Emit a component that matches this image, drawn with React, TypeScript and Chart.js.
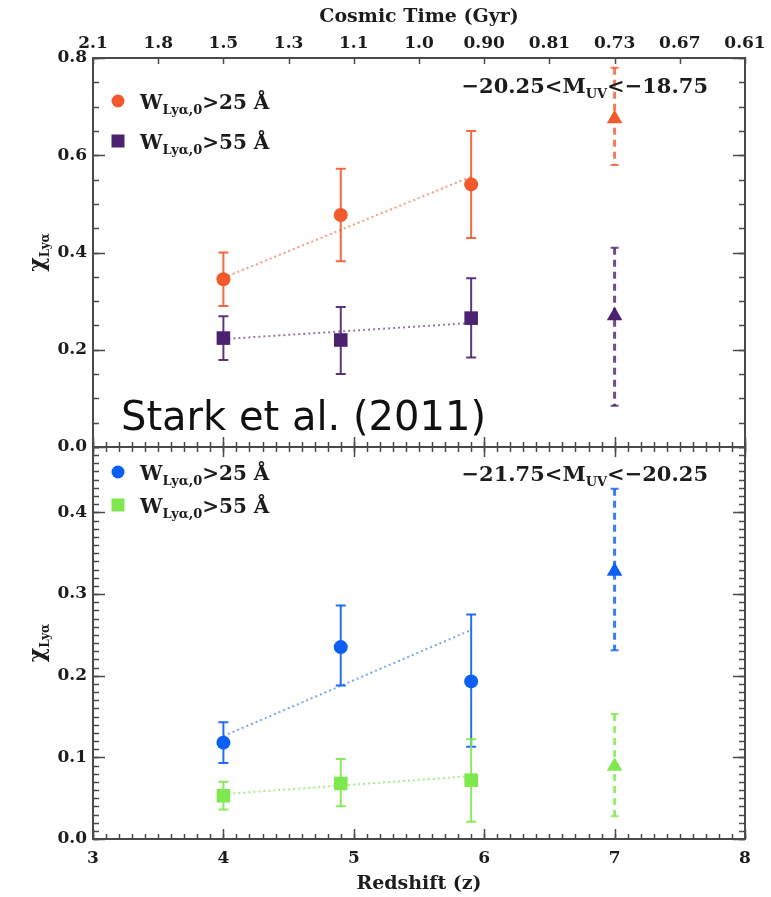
import React, { useEffect, useRef } from 'react';
import { Chart, registerables } from 'chart.js';

Chart.register(...registerables);

const WIDTH = 771;
const HEIGHT = 897;

// Redshift bins of the measurements
const redshifts = [4.0, 4.9, 5.9, 7.0];
// the z~7 point comes from a separate sample and is drawn with a dashed bar
const dashedError = [false, false, false, true];

// -20.25 < M_UV < -18.75 (upper panel)
const faintW25 = [0.345, 0.477, 0.54, 0.675];
const faintW25Hi = [0.055, 0.095, 0.11, 0.105];
const faintW25Lo = [0.055, 0.095, 0.11, 0.095];
const faintW55 = [0.224, 0.22, 0.265, 0.27];
const faintW55Hi = [0.045, 0.068, 0.082, 0.14];
const faintW55Lo = [0.045, 0.07, 0.081, 0.185];

// -21.75 < M_UV < -20.25 (lower panel)
const brightW25 = [0.118, 0.235, 0.193, 0.328];
const brightW25Hi = [0.025, 0.051, 0.082, 0.101];
const brightW25Lo = [0.025, 0.047, 0.08, 0.097];
const brightW55 = [0.053, 0.068, 0.072, 0.089];
const brightW55Hi = [0.017, 0.03, 0.05, 0.064];
const brightW55Lo = [0.017, 0.028, 0.051, 0.061];

// Linear trends over 4 < z < 6
const fitZ = [4.0, 5.9];
const faintW25Fit = [0.348, 0.556];
const faintW55Fit = [0.222, 0.255];
const brightW25Fit = [0.126, 0.256];
const brightW55Fit = [0.055, 0.077];

// Axis ticks
const redshiftTicks = [3, 4, 5, 6, 7, 8];
const cosmicTimeZ = [3, 3.5, 4, 4.5, 5, 5.5, 6, 6.5, 7, 7.5, 8];
const cosmicTimeLabels = ['2.1', '1.8', '1.5', '1.3', '1.1', '1.0', '0.90', '0.81', '0.73', '0.67', '0.61'];
const faintTicks = [0, 0.2, 0.4, 0.6, 0.8];
const brightTicks = [0, 0.1, 0.2, 0.3, 0.4];
const faintMax = 0.8;
const brightMax = 0.48;

const ORANGE = '#f2592d';
const PURPLE = '#4b2170';
const BLUE = '#0b5ff3';
const GREEN = '#7ee84e';
const TEXT = '#1c1c1c';
const FRAME = '#4a4a4a';
const SERIF = "'DejaVu Serif', serif";

type Part = [string, number, number];

const faintLabel: Part[] = [['\u221220.25<M', 21, 0], ['UV', 13, 5], ['<\u221218.75', 21, 0]];
const brightLabel: Part[] = [['\u221221.75<M', 21, 0], ['UV', 13, 5], ['<\u221220.25', 21, 0]];
const w25Label: Part[] = [['W', 20, 0], ['Ly\u03b1,0', 13, 5], ['>25 \u00c5', 20, 0]];
const w55Label: Part[] = [['W', 20, 0], ['Ly\u03b1,0', 13, 5], ['>55 \u00c5', 20, 0]];
const yTitle: Part[] = [['\u03c7', 22, 0], ['Ly\u03b1', 12, 5]];

const range = (start: number, stop: number, step: number) => {
  const n = Math.round((stop - start) / step);
  const out: number[] = [];
  for (let i = 0; i <= n; i++) out.push(start + i * step);
  return out;
};

const toPoints = (xs: number[], ys: number[]) => xs.map((x, i) => ({ x, y: ys[i] }));

const markerStyle = (shape: string) => redshifts.map((_, i) => (dashedError[i] ? 'triangle' : shape));
const markerRadius = (shape: string) => redshifts.map((_, i) => (dashedError[i] ? 9 : shape === 'rect' ? 9.6 : 7));

function pointSeries(values: number[], hi: number[], lo: number[], color: string, shape: string, axis: string) {
  return {
    type: 'scatter',
    data: toPoints(redshifts, values),
    yAxisID: axis,
    xAxisID: 'x',
    backgroundColor: color,
    borderColor: color,
    borderWidth: 0,
    pointStyle: markerStyle(shape),
    pointRadius: markerRadius(shape),
    errHi: hi,
    errLo: lo,
    errColor: color,
    order: 0,
  } as any;
}

function trendSeries(values: number[], color: string, axis: string) {
  return {
    type: 'line',
    data: toPoints(fitZ, values),
    yAxisID: axis,
    xAxisID: 'x',
    borderColor: color,
    borderWidth: 2,
    borderDash: [2, 3],
    pointRadius: 0,
    fill: false,
    order: 1,
  } as any;
}

function font(size: number) {
  return `bold ${size}px ${SERIF}`;
}

function richWidth(ctx: CanvasRenderingContext2D, parts: Part[]) {
  let w = 0;
  for (const [t, s] of parts) {
    ctx.font = font(s);
    w += ctx.measureText(t).width;
  }
  return w;
}

function drawRich(ctx: CanvasRenderingContext2D, x: number, y: number, parts: Part[]) {
  let cx = x;
  ctx.textAlign = 'left';
  ctx.textBaseline = 'alphabetic';
  for (const [t, s, dy] of parts) {
    ctx.font = font(s);
    ctx.fillText(t, cx, y + dy);
    cx += ctx.measureText(t).width;
  }
}

function drawMarker(ctx: CanvasRenderingContext2D, shape: string, x: number, y: number, color: string) {
  ctx.fillStyle = color;
  ctx.beginPath();
  if (shape === 'circle') ctx.arc(x, y, 6.5, 0, Math.PI * 2);
  else ctx.rect(x - 6.5, y - 6.5, 13, 13);
  ctx.fill();
}

const panelDecor = {
  id: 'panelDecor',
  beforeDatasetsDraw(chart: any) {
    const ctx: CanvasRenderingContext2D = chart.ctx;
    chart.data.datasets.forEach((ds: any, i: number) => {
      if (!ds.errHi) return;
      const meta = chart.getDatasetMeta(i);
      const ys = chart.scales[ds.yAxisID];
      ds.data.forEach((pt: any, j: number) => {
        const x = meta.data[j].x;
        const yHi = ys.getPixelForValue(pt.y + ds.errHi[j]);
        const yLo = ys.getPixelForValue(pt.y - ds.errLo[j]);
        const dashed = dashedError[j];
        ctx.save();
        ctx.strokeStyle = ds.errColor;
        ctx.globalAlpha = dashed ? 0.8 : 0.9;
        ctx.lineWidth = dashed ? 3 : 2;
        ctx.setLineDash(dashed ? [7, 5] : []);
        ctx.beginPath();
        ctx.moveTo(x, yHi);
        ctx.lineTo(x, yLo);
        ctx.stroke();
        ctx.setLineDash([]);
        ctx.lineWidth = 2;
        const cw = dashed ? 4 : 5;
        ctx.beginPath();
        ctx.moveTo(x - cw, yHi);
        ctx.lineTo(x + cw, yHi);
        ctx.moveTo(x - cw, yLo);
        ctx.lineTo(x + cw, yLo);
        ctx.stroke();
        ctx.restore();
      });
    });
  },
  afterDraw(chart: any) {
    const ctx: CanvasRenderingContext2D = chart.ctx;
    const a = chart.chartArea;
    const xs = chart.scales.x;
    const yT = chart.scales.yTop;
    const yB = chart.scales.yBot;
    ctx.save();

    // inward tick marks
    ctx.strokeStyle = FRAME;
    ctx.lineWidth = 1.5;
    const side = (scale: any, values: number[], len: number) => {
      for (const v of values) {
        const py = Math.round(scale.getPixelForValue(v)) + 0.5;
        ctx.beginPath();
        ctx.moveTo(a.left, py);
        ctx.lineTo(a.left + len, py);
        ctx.moveTo(a.right, py);
        ctx.lineTo(a.right - len, py);
        ctx.stroke();
      }
    };
    const edge = (yEdge: number, dir: number, values: number[], len: number) => {
      for (const v of values) {
        const px = Math.round(xs.getPixelForValue(v)) + 0.5;
        ctx.beginPath();
        ctx.moveTo(px, yEdge);
        ctx.lineTo(px, yEdge + dir * len);
        ctx.stroke();
      }
    };
    side(yT, range(0, faintMax, 0.05), 6);
    side(yT, faintTicks, 12);
    side(yB, range(0, brightMax, 0.01), 6);
    side(yB, brightTicks, 12);
    const xMinor = range(3, 8, 0.1);
    edge(yT.top, 1, cosmicTimeZ, 6);
    edge(yT.bottom, -1, xMinor, 5);
    edge(yT.bottom, -1, redshiftTicks, 10);
    edge(yB.top, 1, xMinor, 5);
    edge(yB.top, 1, redshiftTicks, 10);
    edge(yB.bottom, -1, xMinor, 5);
    edge(yB.bottom, -1, redshiftTicks, 10);

    // panel frames
    ctx.lineWidth = 2;
    ctx.strokeRect(a.left, yT.top, a.right - a.left, yT.bottom - yT.top);
    ctx.strokeRect(a.left, yB.top, a.right - a.left, yB.bottom - yB.top);

    ctx.fillStyle = TEXT;
    // axis titles
    ctx.font = font(19);
    ctx.textAlign = 'center';
    ctx.textBaseline = 'middle';
    const cx = (a.left + a.right) / 2;
    ctx.fillText('Cosmic Time (Gyr)', cx, 17);
    ctx.fillText('Redshift (z)', cx, 884);

    for (const s of [yT, yB]) {
      const cy = (s.top + s.bottom) / 2;
      const w = richWidth(ctx, yTitle);
      ctx.save();
      ctx.translate(44, cy);
      ctx.rotate(-Math.PI / 2);
      drawRich(ctx, -w / 2, 0, yTitle);
      ctx.restore();
    }

    // magnitude ranges
    const rightEdge = a.right - 37;
    drawRich(ctx, rightEdge - richWidth(ctx, faintLabel), yT.top + 35, faintLabel);
    drawRich(ctx, rightEdge - richWidth(ctx, brightLabel), yB.top + 34, brightLabel);

    // legends
    const legends: [any, string, string, Part[]][] = [
      [yT, 'circle', ORANGE, w25Label],
      [yT, 'rect', PURPLE, w55Label],
      [yB, 'circle', BLUE, w25Label],
      [yB, 'rect', GREEN, w55Label],
    ];
    legends.forEach(([s, shape, color, parts], k) => {
      const row = k % 2;
      const my = s.top + (s === yT ? 43 : 25) + row * (s === yT ? 40 : 33);
      drawMarker(ctx, shape, a.left + 25, my, color);
      ctx.fillStyle = TEXT;
      drawRich(ctx, a.left + 47, my + 8, parts);
    });

    // citation
    ctx.fillStyle = '#111';
    ctx.font = "40px 'DejaVu Sans', sans-serif";
    ctx.textAlign = 'left';
    ctx.textBaseline = 'alphabetic';
    ctx.fillText('Stark et al. (2011)', 121, 430);

    ctx.restore();
  },
};

const tickFont = { family: SERIF, weight: 'bold' as const, size: 17 };

function App() {
  const ref = useRef<HTMLCanvasElement>(null);

  useEffect(() => {
    const chart = new Chart(ref.current!, {
      type: 'scatter',
      data: {
        datasets: [
          trendSeries(faintW25Fit, 'rgba(242,89,45,0.6)', 'yTop'),
          trendSeries(faintW55Fit, 'rgba(75,33,112,0.6)', 'yTop'),
          trendSeries(brightW25Fit, 'rgba(11,95,243,0.55)', 'yBot'),
          trendSeries(brightW55Fit, 'rgba(126,232,78,0.7)', 'yBot'),
          pointSeries(faintW25, faintW25Hi, faintW25Lo, ORANGE, 'circle', 'yTop'),
          pointSeries(faintW55, faintW55Hi, faintW55Lo, PURPLE, 'rect', 'yTop'),
          pointSeries(brightW25, brightW25Hi, brightW25Lo, BLUE, 'circle', 'yBot'),
          pointSeries(brightW55, brightW55Hi, brightW55Lo, GREEN, 'rect', 'yBot'),
        ],
      },
      options: {
        responsive: false,
        animation: false,
        devicePixelRatio: 1,
        layout: { padding: { left: 0, right: 26, top: 0, bottom: 0 } },
        plugins: { legend: { display: false }, tooltip: { enabled: false }, title: { display: false } },
        scales: {
          x: {
            type: 'linear',
            position: 'bottom',
            min: 3,
            max: 8,
            grid: { display: false, drawTicks: false },
            border: { display: false },
            afterBuildTicks: (s: any) => {
              s.ticks = redshiftTicks.map((v) => ({ value: v }));
            },
            ticks: { font: tickFont, color: TEXT, padding: 9, maxRotation: 0, autoSkip: false, callback: (v: any) => String(v) },
            afterFit: (s: any) => {
              s.height = 58;
            },
          },
          xTop: {
            type: 'linear',
            position: 'top',
            min: 3,
            max: 8,
            grid: { display: false, drawTicks: false },
            border: { display: false },
            afterBuildTicks: (s: any) => {
              s.ticks = cosmicTimeZ.map((v) => ({ value: v }));
            },
            ticks: { font: tickFont, color: TEXT, padding: 4, maxRotation: 0, autoSkip: false, callback: (_v: any, i: number) => cosmicTimeLabels[i] },
            afterFit: (s: any) => {
              s.height = 58;
            },
          },
          yTop: {
            type: 'linear',
            position: 'left',
            stack: 'panels',
            stackWeight: 389,
            weight: 1,
            min: 0,
            max: faintMax,
            grid: { display: false, drawTicks: false },
            border: { display: false },
            afterBuildTicks: (s: any) => {
              s.ticks = faintTicks.map((v) => ({ value: v }));
            },
            ticks: { font: tickFont, color: TEXT, padding: 6, callback: (v: any) => Number(v).toFixed(1) },
            afterFit: (s: any) => {
              s.width = 93;
            },
          },
          yBot: {
            type: 'linear',
            position: 'left',
            stack: 'panels',
            stackWeight: 392,
            weight: 0,
            min: 0,
            max: brightMax,
            grid: { display: false, drawTicks: false },
            border: { display: false },
            afterBuildTicks: (s: any) => {
              s.ticks = brightTicks.map((v) => ({ value: v }));
            },
            ticks: { font: tickFont, color: TEXT, padding: 6, callback: (v: any) => Number(v).toFixed(1) },
            afterFit: (s: any) => {
              s.width = 93;
            },
          },
        },
      } as any,
      plugins: [panelDecor],
    });
    return () => chart.destroy();
  }, []);

  return (
    <div style={{ position: 'absolute', left: 0, top: 0, width: WIDTH, height: HEIGHT, background: '#fff' }}>
      <canvas ref={ref} width={WIDTH} height={HEIGHT} style={{ display: 'block', width: WIDTH, height: HEIGHT }} />
    </div>
  );
}

export default App;
